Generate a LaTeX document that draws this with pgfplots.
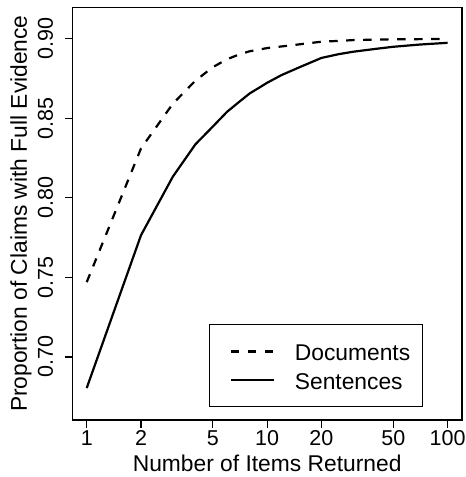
\documentclass[border=0pt]{standalone}
\usepackage{fontspec}
\setmainfont{Liberation Sans}
\usepackage{pgfplots}
\pgfplotsset{compat=1.18}
\pgfplotstableread{
x y
1 0.747
2 0.831
3 0.859
4 0.8735
5 0.882
6 0.887
7 0.890
8 0.892
9 0.893
10 0.894
12 0.895
15 0.8963
20 0.898
25 0.8985
30 0.899
40 0.8993
50 0.8995
70 0.8996
100 0.8997
}\docs
\pgfplotstableread{
x y
1 0.6805
2 0.7765
3 0.8132
4 0.8335
5 0.8447
6 0.854
7 0.8602
8 0.8655
9 0.869
10 0.8722
12 0.877
15 0.8818
20 0.8878
25 0.8902
30 0.8917
40 0.8935
50 0.8948
70 0.8962
100 0.8973
}\sents
\begin{document}
\fontsize{22.8pt}{27pt}\selectfont
\begin{tikzpicture}
\begin{axis}[
  scale only axis, width=389.7pt, height=412.7pt,
  xmode=log, xmin=0.8318, xmax=120.23, ymin=0.6604, ymax=0.9196,
  axis line style={line width=1.2pt},
  xtick={1,2,5,10,20,50,100}, xticklabels={1,2,5,10,20,50,100},
  ytick={0.70,0.75,0.80,0.85,0.90}, yticklabels={0.70,0.75,0.80,0.85,0.90},
  tick align=outside, tick pos=left, minor tick num=0,
  major tick length=7.5pt, tick style={line width=1.2pt, black},
  /pgf/number format/assume math mode=true,
  ticklabel style={font=\fontsize{21.5pt}{25pt}\selectfont, inner sep=0pt},
  xticklabel style={anchor=base}, xticklabel shift=18pt,
  yticklabel style={rotate=90, anchor=base}, yticklabel shift=12pt,
  xlabel={Number of Items Returned},
  xlabel style={at={(axis description cs:0.5,-0.12527)}, anchor=base, inner sep=0pt},
  ylabel={Proportion of Claims with Full Evidence},
  ylabel style={at={(axis description cs:-0.11624,0.5)}, anchor=base, inner sep=0pt, rotate=0},
  legend style={at={(axis description cs:0.8992,0.0308)}, anchor=south east,
    draw=black, line width=1pt, inner xsep=0pt, inner ysep=17.4pt, row sep=9.3pt,
    column sep=20pt, font=\fontsize{22.8pt}{27pt}\selectfont,
    nodes={inner sep=0pt, text height=19.1pt, text depth=0pt}},
  legend cell align=left,
  legend image code/.code={\path (-20.4pt,0pt); \draw[#1] (0pt,0pt) -- (43pt,0pt);},
]
\coordinate (ll) at (rel axis cs:0,0);
\coordinate (ur) at (rel axis cs:1,1);
\addplot[black, line width=2.2pt, dash pattern=on 8.5pt off 8.5pt] table {\docs};
\addlegendentry{Documents\rule{12pt}{0pt}}
\addplot[black, line width=2.2pt] table {\sents};
\addlegendentry{Sentences}
\end{axis}
\path (ll) ++(-72.3pt,-57pt) coordinate (bba);
\path (ur) ++(4pt,7.3pt) coordinate (bbb);
\pgfresetboundingbox
\path[use as bounding box] (bba) rectangle (bbb);
\end{tikzpicture}
\end{document}
